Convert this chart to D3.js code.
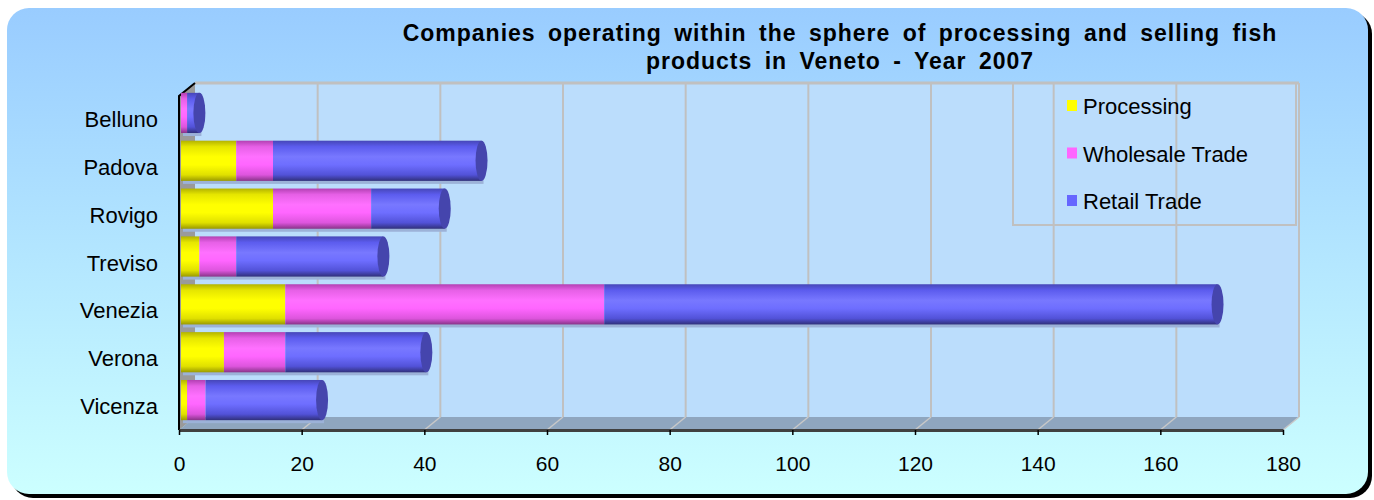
<!DOCTYPE html>
<html lang="en">
<head>
  <meta charset="UTF-8">
  <title>Companies operating within the sphere of processing and selling fish products in Veneto - Year 2007</title>
  <style>
    body { margin: 0; background: #fff; }
    svg { display: block; font-family: Arial, "Liberation Sans", sans-serif; }
  </style>
  <script src="https://d3js.org/d3.v7.min.js"></script>
</head>
<body>
  <div id="chart"></div>

  <script>
    // Dati
    var provinces = ["Belluno", "Padova", "Rovigo", "Treviso", "Venezia", "Verona", "Vicenza"];
    var seriesNames = ["Processing", "Wholesale Trade", "Retail Trade"];
    var processing = [0, 9, 15, 3, 17, 7, 1];
    var wholesale = [1, 6, 16, 6, 52, 10, 3];
    var retail = [2, 34, 12, 24, 100, 23, 19];
    var xTicks = [0, 20, 40, 60, 80, 100, 120, 140, 160, 180];

    var W = 1374, H = 500;
    var depthX = 16, depthY = -13;   // spostamento della parete di fondo

    var svg = d3.select("#chart").append("svg")
      .attr("width", W)
      .attr("height", H);

    var defs = svg.append("defs");

    var bg = defs.append("linearGradient").attr("id", "bg")
      .attr("x1", 0).attr("y1", 0).attr("x2", 0).attr("y2", 1);
    bg.append("stop").attr("offset", "0%").attr("stop-color", "#99ccff");
    bg.append("stop").attr("offset", "100%").attr("stop-color", "#ccffff");

    // gradienti dei cilindri
    var cyl = [
      { id: "c0", stops: ["#b3b300", "#e6e600", "#ffff00", "#ffff00", "#e0e000", "#9a9a00"], cap: "#cccc00" },
      { id: "c1", stops: ["#b340b3", "#e660e6", "#ff70ff", "#ff66ff", "#dd55dd", "#883388"], cap: "#cc44cc" },
      { id: "c2", stops: ["#4646b8", "#5c5cee", "#7878ff", "#6e6eff", "#5252d8", "#30307a"], cap: "#4545ad" }
    ];
    cyl.forEach(function(c) {
      var g = defs.append("linearGradient").attr("id", c.id)
        .attr("x1", 0).attr("y1", 0).attr("x2", 0).attr("y2", 1);
      var offs = [0, 0.15, 0.4, 0.6, 0.85, 1];
      c.stops.forEach(function(s, i) {
        g.append("stop").attr("offset", offs[i]).attr("stop-color", s);
      });
    });

    // Sfondo arrotondato con ombra
    svg.append("rect")
      .attr("x", 11).attr("y", 12).attr("width", 1361).attr("height", 486)
      .attr("rx", 22).attr("fill", "#000");
    svg.append("rect")
      .attr("x", 7).attr("y", 8).attr("width", 1361).attr("height", 486)
      .attr("rx", 22).attr("fill", "url(#bg)");

    // Scale
    var x = d3.scaleLinear().domain([0, 180]).range([179, 1283]);
    var y = d3.scaleBand().domain(provinces).range([89, 424]).paddingInner(0.16).paddingOuter(0.08);

    var pTop = 96, pBottom = 430;

    // Parete di fondo
    svg.append("rect")
      .attr("x", x(0) + depthX).attr("y", pTop + depthY)
      .attr("width", x(180) - x(0)).attr("height", pBottom - pTop)
      .attr("fill", "#bbddfc");

    // griglia sulla parete di fondo
    svg.append("g").selectAll("line")
      .data(xTicks.slice(1))
      .enter().append("line")
      .attr("x1", function(d) { return x(d) + depthX; })
      .attr("x2", function(d) { return x(d) + depthX; })
      .attr("y1", pTop + depthY)
      .attr("y2", pBottom + depthY)
      .attr("stroke", "#c0c0c0")
      .attr("stroke-width", 2);

    svg.append("line")
      .attr("x1", x(0) + depthX).attr("x2", x(180) + depthX)
      .attr("y1", pTop + depthY).attr("y2", pTop + depthY)
      .attr("stroke", "#c0c0c0").attr("stroke-width", 3);

    // Pavimento
    svg.append("path")
      .attr("d", "M" + x(0) + "," + pBottom + "L" + x(180) + "," + pBottom +
        "L" + (x(180) + depthX) + "," + (pBottom + depthY) +
        "L" + (x(0) + depthX) + "," + (pBottom + depthY) + "Z")
      .attr("fill", "#8fa6bf");
    svg.append("g").selectAll("line")
      .data(xTicks.slice(1))
      .enter().append("line")
      .attr("x1", function(d) { return x(d); })
      .attr("x2", function(d) { return x(d) + depthX; })
      .attr("y1", pBottom)
      .attr("y2", pBottom + depthY)
      .attr("stroke", "#c8c8c8")
      .attr("stroke-width", 1.5);

    // Parete sinistra
    svg.append("path")
      .attr("d", "M" + x(0) + "," + pTop + "L" + (x(0) + depthX) + "," + (pTop + depthY) +
        "L" + (x(0) + depthX) + "," + (pBottom + depthY) + "L" + x(0) + "," + pBottom + "Z")
      .attr("fill", "#9a9a9a");
    svg.append("path")
      .attr("d", "M" + x(0) + "," + pBottom + "L" + x(0) + "," + pTop +
        "L" + (x(0) + depthX) + "," + (pTop + depthY))
      .attr("fill", "none")
      .attr("stroke", "#000")
      .attr("stroke-width", 2);

    // Cilindri impilati
    var rows = provinces.map(function(p, i) {
      var vals = [processing[i], wholesale[i], retail[i]];
      var acc = 0;
      var segs = vals.map(function(v, k) {
        var s = { k: k, x0: acc, x1: acc + v };
        acc += v;
        return s;
      });
      return { name: p, segs: segs.filter(function(s) { return s.x1 > s.x0; }), total: acc };
    });

    var bh = y.bandwidth();
    var capRx = 6;

    var row = svg.append("g").selectAll("g")
      .data(rows)
      .enter().append("g")
      .attr("transform", function(d) { return "translate(0," + y(d.name) + ")"; });

    // ombra sotto il cilindro
    row.append("rect")
      .attr("x", x(0) + 4)
      .attr("y", bh - 1)
      .attr("width", function(d) { return Math.max(0, x(d.total) - x(0)); })
      .attr("height", 4)
      .attr("fill", "#9cb2d8");

    row.selectAll("rect.seg")
      .data(function(d) { return d.segs; })
      .enter().append("rect")
      .attr("class", "seg")
      .attr("x", function(d) { return x(d.x0) + 2; })
      .attr("y", 0)
      .attr("width", function(d) { return Math.max(0, x(d.x1) - x(d.x0)); })
      .attr("height", bh)
      .attr("fill", function(d) { return "url(#" + cyl[d.k].id + ")"; });

    row.append("ellipse")
      .attr("cx", function(d) { return x(d.total) + 2; })
      .attr("cy", bh / 2)
      .attr("rx", capRx)
      .attr("ry", bh / 2)
      .attr("fill", function(d) { return cyl[d.segs[d.segs.length - 1].k].cap; });

    // Etichette categorie
    svg.append("g").selectAll("text")
      .data(provinces)
      .enter().append("text")
      .attr("x", 158)
      .attr("y", function(d) { return y(d) + bh / 2 + 14; })
      .attr("text-anchor", "end")
      .attr("font-size", 22)
      .attr("fill", "#000")
      .text(function(d) { return d; });

    // Asse X
    var axis = svg.append("g")
      .attr("transform", "translate(0," + pBottom + ")")
      .call(d3.axisBottom(x).tickValues(xTicks).tickSize(5).tickSizeOuter(0).tickPadding(21));
    axis.select(".domain").attr("stroke", "#404040").attr("stroke-width", 3);
    axis.selectAll(".tick line").attr("stroke", "#000").attr("stroke-width", 1.5);
    axis.selectAll(".tick text")
      .attr("font-size", 21)
      .attr("font-family", "Arial, 'Liberation Sans', sans-serif")
      .attr("fill", "#000");

    // Titolo
    var title = svg.append("text")
      .attr("text-anchor", "middle")
      .attr("font-size", 23)
      .attr("font-weight", "bold")
      .attr("letter-spacing", 1)
      .attr("word-spacing", 5)
      .attr("fill", "#000");
    title.append("tspan").attr("x", 840).attr("y", 41)
      .text("Companies operating within the sphere of processing and selling fish");
    title.append("tspan").attr("x", 840).attr("y", 69)
      .text("products in Veneto - Year 2007");

    // Legenda
    var legend = svg.append("g");
    legend.append("rect")
      .attr("x", 1013).attr("y", 83).attr("width", 283).attr("height", 142)
      .attr("fill", "none").attr("stroke", "#c0c0c0").attr("stroke-width", 2);
    var li = legend.selectAll("g.item")
      .data(seriesNames)
      .enter().append("g")
      .attr("class", "item")
      .attr("transform", function(d, i) { return "translate(1067," + (106 + i * 47.5) + ")"; });
    li.append("rect")
      .attr("x", 0).attr("y", -6).attr("width", 10).attr("height", 11)
      .attr("fill", function(d, i) { return ["#ffff00", "#ff66ff", "#6666ff"][i]; });
    li.append("text")
      .attr("x", 16)
      .attr("y", 8)
      .attr("font-size", 22)
      .attr("fill", "#000")
      .text(function(d) { return d; });
  </script>
</body>
</html>
